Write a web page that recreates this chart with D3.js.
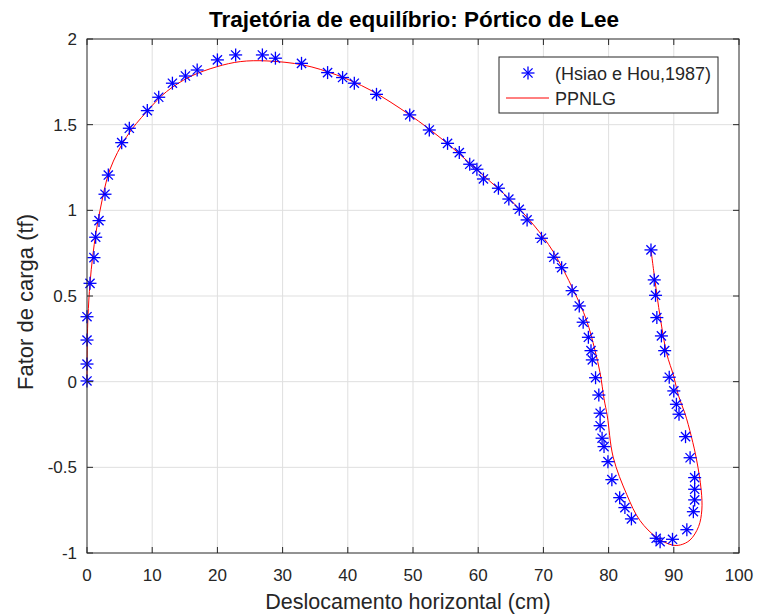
<!DOCTYPE html>
<html>
<head>
<meta charset="utf-8">
<script src="https://d3js.org/d3.v7.min.js"></script>
<title>Pórtico de Lee</title>
</head>
<style>
body { margin: 0; background: #fff; }
svg { display: block; font-family: "Liberation Sans", Arial, sans-serif; }
</style>
<body>
<svg width="757" height="616"></svg>
</body>
<script>

// data
let refX = [0, 0, 0, 0, 0.46, 1.07, 1.33, 1.84, 2.76, 3.27, 5.32, 6.49, 9.25, 11.0, 13.1, 15.1, 16.9,
  20.0, 22.8, 26.9, 28.9, 32.9, 36.9, 39.2, 41.0, 44.4, 49.5, 52.5, 55.3, 57.1, 58.7, 59.8, 60.8,
  63.1, 64.7, 66.3, 67.5, 69.7, 71.6, 72.8, 74.4, 75.5, 76.1, 76.9, 77.3, 77.5, 78.0, 78.5, 78.7,
  78.7, 79.0, 79.3, 79.9, 80.5, 81.7, 82.5, 83.5, 87.3, 87.9, 89.8, 92.0, 93.0, 93.2, 93.2, 93.2,
  92.5, 91.8, 90.8, 90.4, 90.0, 89.3, 88.6, 88.1, 87.4, 87.2, 87.0, 86.5];
let refY = [0.004, 0.103, 0.243, 0.379, 0.574, 0.724, 0.843, 0.940, 1.094, 1.206, 1.395, 1.479, 1.582,
  1.660, 1.742, 1.784, 1.819, 1.878, 1.907, 1.907, 1.888, 1.858, 1.804, 1.775, 1.742, 1.677, 1.557,
  1.469, 1.391, 1.337, 1.269, 1.240, 1.183, 1.129, 1.066, 1.006, 0.944, 0.837, 0.726, 0.665, 0.531,
  0.442, 0.347, 0.259, 0.181, 0.127, 0.023, -0.078, -0.184, -0.257, -0.330, -0.379, -0.467, -0.572,
  -0.677, -0.735, -0.801, -0.914, -0.934, -0.920, -0.864, -0.759, -0.690, -0.628, -0.560, -0.444,
  -0.321, -0.190, -0.132, -0.054, 0.026, 0.181, 0.267, 0.374, 0.504, 0.594, 0.769];

let ppnlgX = [0, 0.02, 0.05, 0.15, 0.46, 0.87, 1.38, 2.0, 3.5, 6.08, 9.15, 12.2, 15.8, 19.9, 23.5, 27.6,
  33.2, 38.3, 43.4, 49.5, 54.6, 58.7, 60.6, 64.9, 68.5, 71.5, 74.6, 76.6, 77.9, 78.7, 79.3, 79.8,
  80.7, 82.8, 84.8, 87.4, 89.7, 91.0, 92.5, 93.8, 94.3, 94.2, 93.5, 92.7, 91.7, 90.7, 90.0, 88.9,
  87.9, 87.1, 86.5];
let ppnlgY = [0, 0.12, 0.24, 0.38, 0.574, 0.73, 0.87, 1.0, 1.236, 1.43, 1.576, 1.693, 1.78, 1.838,
  1.868, 1.872, 1.848, 1.79, 1.703, 1.557, 1.411, 1.275, 1.21, 1.062, 0.915, 0.759, 0.535, 0.36,
  0.185, 0.05, -0.1, -0.2, -0.44, -0.66, -0.81, -0.91, -0.953, -0.953, -0.924, -0.846, -0.749,
  -0.632, -0.457, -0.321, -0.184, -0.08, 0.03, 0.166, 0.379, 0.594, 0.769];

let xTicks = [0, 10, 20, 30, 40, 50, 60, 70, 80, 90, 100];
let yTicks = [-1, -0.5, 0, 0.5, 1, 1.5, 2];

let titleText = "Trajetória de equilíbrio: Pórtico de Lee";
let xLabel = "Deslocamento horizontal (cm)";
let yLabel = "Fator de carga (tf)";
let seriesNames = ["(Hsiao e Hou,1987)", "PPNLG"];

let pLeft = 87, pRight = 739, pTop = 39, pBottom = 553;
let axisColor = "#262626";

let svg = d3.select("svg");

let x = d3.scaleLinear().domain([0, 100]).range([pLeft, pRight]);
let y = d3.scaleLinear().domain([-1, 2]).range([pBottom, pTop]);

// grid
svg.append("g").selectAll("line").data(xTicks.slice(1, -1)).enter().append("line")
  .attr("x1", d => x(d)).attr("x2", d => x(d))
  .attr("y1", pTop).attr("y2", pBottom)
  .attr("stroke", "#dfdfdf").attr("stroke-width", 1);
svg.append("g").selectAll("line").data(yTicks.slice(1, -1)).enter().append("line")
  .attr("x1", pLeft).attr("x2", pRight)
  .attr("y1", d => y(d)).attr("y2", d => y(d))
  .attr("stroke", "#dfdfdf").attr("stroke-width", 1);

// curve
let curvePts = ppnlgX.map((v, i) => [v, ppnlgY[i]]);
svg.append("path")
  .attr("d", d3.line().x(d => x(d[0])).y(d => y(d[1])).curve(d3.curveCatmullRom)(curvePts))
  .attr("fill", "none").attr("stroke", "#ff0000").attr("stroke-width", 1);

// asterisk markers
function asterisk(g, r) {
  let a = r * 0.7071;
  g.append("line").attr("x1", -r).attr("x2", r).attr("y1", 0).attr("y2", 0);
  g.append("line").attr("x1", 0).attr("x2", 0).attr("y1", -r).attr("y2", r);
  g.append("line").attr("x1", -a).attr("x2", a).attr("y1", -a).attr("y2", a);
  g.append("line").attr("x1", -a).attr("x2", a).attr("y1", a).attr("y2", -a);
}
let refPts = refX.map((v, i) => [v, refY[i]]);
svg.append("g").selectAll("g").data(refPts).enter().append("g")
  .attr("transform", d => "translate(" + x(d[0]) + "," + y(d[1]) + ")")
  .attr("stroke", "#0000ff").attr("stroke-width", 1.3)
  .each(function() { asterisk(d3.select(this), 6.5); });

// box and ticks
svg.append("rect").attr("x", pLeft).attr("y", pTop)
  .attr("width", pRight - pLeft).attr("height", pBottom - pTop)
  .attr("fill", "none").attr("stroke", axisColor).attr("stroke-width", 1);

let tl = 6;
xTicks.forEach(function(t) {
  svg.append("line").attr("x1", x(t)).attr("x2", x(t)).attr("y1", pBottom).attr("y2", pBottom - tl).attr("stroke", axisColor);
  svg.append("line").attr("x1", x(t)).attr("x2", x(t)).attr("y1", pTop).attr("y2", pTop + tl).attr("stroke", axisColor);
});
yTicks.forEach(function(t) {
  svg.append("line").attr("x1", pLeft).attr("x2", pLeft + tl).attr("y1", y(t)).attr("y2", y(t)).attr("stroke", axisColor);
  svg.append("line").attr("x1", pRight).attr("x2", pRight - tl).attr("y1", y(t)).attr("y2", y(t)).attr("stroke", axisColor);
});

svg.append("g").selectAll("text").data(xTicks).enter().append("text")
  .attr("x", d => x(d)).attr("y", pBottom + 28)
  .attr("text-anchor", "middle").attr("font-size", 17).attr("fill", axisColor)
  .text(d => d);
svg.append("g").selectAll("text").data(yTicks).enter().append("text")
  .attr("x", pLeft - 10).attr("y", d => y(d) + 6)
  .attr("text-anchor", "end").attr("font-size", 17).attr("fill", axisColor)
  .text(d => d);

// labels
svg.append("text").attr("x", 408).attr("y", 609)
  .attr("text-anchor", "middle").attr("font-size", 21.5).attr("fill", axisColor)
  .text(xLabel);
svg.append("text").attr("transform", "translate(33,302) rotate(-90)")
  .attr("text-anchor", "middle").attr("font-size", 22).attr("fill", axisColor)
  .text(yLabel);
svg.append("text").attr("x", 414).attr("y", 27)
  .attr("text-anchor", "middle").attr("font-size", 22.5).attr("font-weight", "bold").attr("fill", "#000")
  .text(titleText);

// legend
let lg = svg.append("g");
lg.append("rect").attr("x", 499).attr("y", 57).attr("width", 219).attr("height", 56)
  .attr("fill", "#fff").attr("stroke", axisColor).attr("stroke-width", 1);
let mk = lg.append("g").attr("transform", "translate(528,73)")
  .attr("stroke", "#0000ff").attr("stroke-width", 1.3);
asterisk(mk, 6.5);
lg.append("line").attr("x1", 506).attr("x2", 549).attr("y1", 98).attr("y2", 98)
  .attr("stroke", "#ff0000").attr("stroke-width", 1);
lg.selectAll("text").data(seriesNames).enter().append("text")
  .attr("x", 555).attr("y", (d, i) => 80 + i * 25)
  .attr("font-size", 18).attr("fill", axisColor)
  .text(d => d);

</script>
</html>
